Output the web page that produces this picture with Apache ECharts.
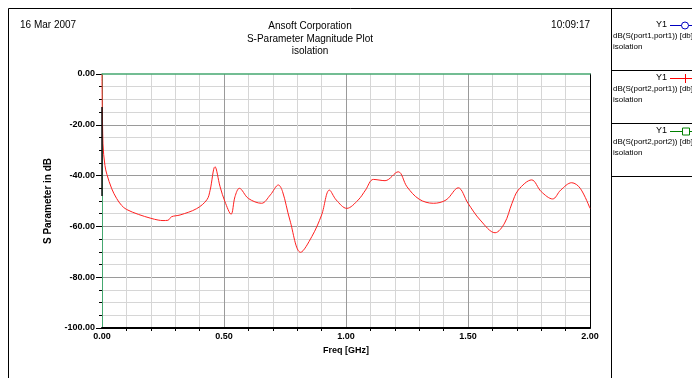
<!DOCTYPE html>
<html>
<head>
<meta charset="utf-8">
<script src="https://cdn.jsdelivr.net/npm/echarts@6/dist/echarts.min.js"></script>
<style>
  html, body { margin: 0; padding: 0; background: #fff; }
  #chart { width: 692px; height: 378px; }
</style>
</head>
<body>
<div id="chart"></div>
<script>
// dB(S(port2,port1)), freq in GHz
var freqS21 = [0, 0.004, 0.012, 0.02, 0.04, 0.06, 0.08, 0.1, 0.15, 0.2, 0.23, 0.25, 0.27, 0.285, 0.32, 0.388,
	0.43, 0.443, 0.463, 0.484, 0.504, 0.529, 0.545, 0.563, 0.6, 0.654, 0.69, 0.723, 0.74, 0.77, 0.814,
	0.86, 0.9, 0.932, 0.96, 1.003, 1.05, 1.08, 1.112, 1.16, 1.214, 1.25, 1.3, 1.358, 1.41, 1.46, 1.5,
	1.55, 1.611, 1.65, 1.68, 1.706, 1.761, 1.8, 1.847, 1.88, 1.925, 1.96, 2.0]
var dbS21 = [0, -27.5, -36, -39.5, -45.2, -49, -51.7, -53.3, -55.3, -56.8, -57.5, -57.7, -57.6, -56.2, -55.5, -53,
	-49.5, -45.8, -36.5, -44.4, -50.3, -55.2, -48.3, -45, -49, -50.9, -47.6, -43.7, -46.3, -57.5, -70.2,
	-64, -55.5, -45.7, -49.6, -52.9, -49.6, -45.7, -41.5, -42, -38.5, -44.4, -49.3, -50.9, -49.6, -44.8, -50.9,
	-57.5, -62.5, -58.7, -51, -45.7, -41.7, -46.3, -49.2, -45.7, -42.8, -45, -52.9]
// dB(S(port1,port1)) - only its start is visible on the left edge
var freqS11 = [0, 0]
var dbS11 = [-48, -13]

var yTicks = [0, -20, -40, -60, -80, -100]
var xTicks = [0, 0.5, 1, 1.5, 2]

var legendItems = [
	{ name: "dB(S(port1,port1)) [db]", color: "#0000c0", symbol: "circle" },
	{ name: "dB(S(port2,port1)) [db]", color: "#ff0000", symbol: "plus" },
	{ name: "dB(S(port2,port2)) [db]", color: "#008000", symbol: "square" }
]

function pairs(xs, ys) {
	return xs.map(function (x, i) { return [x, ys[i]] })
}

var FONT = "Liberation Sans, Arial, sans-serif"
var GREEN = "#45a870"
var graphics = [
	// frame and legend panel
	{ type: "rect", shape: { x: 8.5, y: 8.5, width: 700, height: 380 }, style: { fill: null, stroke: "#000", lineWidth: 1 }, silent: true },
	{ type: "line", shape: { x1: 611.5, y1: 8, x2: 611.5, y2: 378 }, style: { stroke: "#000", lineWidth: 1 } },
	{ type: "text", style: { x: 20, y: 20, text: "16 Mar 2007", font: "10px " + FONT, fill: "#000" } },
	{ type: "text", style: { x: 590, y: 20, text: "10:09:17", font: "10px " + FONT, fill: "#000", align: "right" } },
	{ type: "text", style: { x: 310, y: 20, text: "Ansoft Corporation\nS-Parameter Magnitude Plot\nisolation", font: "10px " + FONT, fill: "#000", align: "center", lineHeight: 12.5 } }
]
legendItems.forEach(function (item, i) {
	var y0 = 8 + i * 53
	graphics.push(
		{ type: "text", style: { x: 667, y: y0 + 12, text: "Y1", font: "9px " + FONT, fill: "#000", align: "right" } },
		{ type: "line", shape: { x1: 670, y1: y0 + 17.5, x2: 692, y2: y0 + 17.5 }, style: { stroke: item.color, lineWidth: 1 } },
		{ type: "text", style: { x: 613, y: y0 + 23, text: item.name + "\nisolation", font: "8px " + FONT, fill: "#000", lineHeight: 10.5 } },
		{ type: "line", shape: { x1: 611, y1: y0 + 62.5, x2: 692, y2: y0 + 62.5 }, style: { stroke: "#000", lineWidth: 1 } }
	)
	if (item.symbol === "circle") {
		graphics.push({ type: "circle", shape: { cx: 685, cy: y0 + 17.5, r: 3.5 }, style: { fill: "#fff", stroke: item.color } })
	} else if (item.symbol === "square") {
		graphics.push({ type: "rect", shape: { x: 682.5, y: y0 + 14, width: 7, height: 7 }, style: { fill: "#fff", stroke: item.color } })
	} else {
		graphics.push({ type: "line", shape: { x1: 685.5, y1: y0 + 13, x2: 685.5, y2: y0 + 22 }, style: { stroke: item.color } })
	}
})

var option = {
	animation: false,
	backgroundColor: "#fff",
	textStyle: { fontFamily: FONT },
	grid: { left: 102, top: 74, width: 488, height: 254 },
	graphic: graphics,
	xAxis: [
		{
			type: "value",
			min: 0, max: 2, interval: 0.5,
			name: "Freq [GHz]",
			nameLocation: "middle",
			nameGap: 18,
			nameTextStyle: { fontSize: 9, fontWeight: "bold", color: "#000" },
			axisLine: { onZero: false, lineStyle: { color: "#000", width: 2 } },
			axisTick: { show: false },
			minorTick: { show: true, splitNumber: 5, length: 3, lineStyle: { color: "#000" } },
			axisLabel: {
				margin: 4, fontSize: 9, fontWeight: "bold", color: "#000",
				formatter: function (v) { return xTicks.indexOf(v) >= 0 ? v.toFixed(2) : "" }
			},
			splitLine: { showMinLine: false, showMaxLine: false, lineStyle: { color: "#9a9a9a", width: 1 } },
			minorSplitLine: { show: true, lineStyle: { color: "#d6d6d6", width: 1 } }
		},
		{
			type: "value", position: "top", min: 0, max: 2,
			z: 10,
			axisLine: { show: true, onZero: false, lineStyle: { color: GREEN, width: 1.5 } },
			axisTick: { show: false }, axisLabel: { show: false }, splitLine: { show: false }
		}
	],
	yAxis: [
		{
			type: "value",
			min: -100, max: 0, interval: 20,
			name: "S Parameter in dB",
			nameLocation: "middle",
			nameGap: 46,
			nameTextStyle: { fontSize: 10, fontWeight: "bold", color: "#000" },
			axisLine: { show: true, onZero: false, lineStyle: { color: GREEN, width: 1 } },
			axisTick: { show: true, length: 6, lineStyle: { color: "#000" } },
			minorTick: { show: true, splitNumber: 4, length: 3, lineStyle: { color: "#000" } },
			axisLabel: {
				margin: 7, fontSize: 9, fontWeight: "bold", color: "#000",
				formatter: function (v) { return yTicks.indexOf(v) >= 0 ? v.toFixed(2) : "" }
			},
			splitLine: { showMinLine: false, showMaxLine: false, lineStyle: { color: "#9a9a9a", width: 1 } },
			minorSplitLine: { show: true, lineStyle: { color: "#d6d6d6", width: 1 } }
		},
		{
			type: "value", position: "right", min: -100, max: 0,
			axisLine: { show: true, onZero: false, lineStyle: { color: "#000", width: 1 } },
			axisTick: { show: false }, axisLabel: { show: false }, splitLine: { show: false }
		}
	],
	series: [
		{
			name: "S21", type: "line",
			data: pairs(freqS21, dbS21),
			smooth: 0.35, symbol: "none",
			lineStyle: { color: "#ff2020", width: 1 },
			z: 3
		},
		{
			name: "S11", type: "line",
			data: pairs(freqS11, dbS11),
			symbol: "none",
			lineStyle: { color: "#101010", width: 1.5 },
			z: 4
		}
	]
}

var myChart = echarts.init(document.getElementById("chart"))
myChart.setOption(option)
</script>
</body>
</html>
